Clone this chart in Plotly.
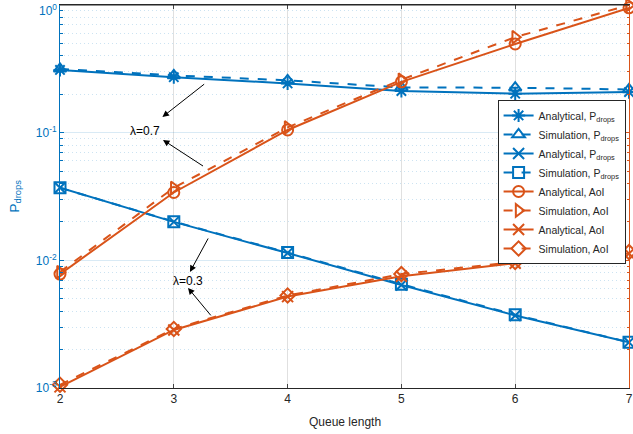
import numpy as np
import plotly.graph_objects as go

queue_length = [2, 3, 4, 5, 6, 7]

# lambda = 0.7
pdrop_ana_07 = [0.31, 0.272, 0.243, 0.212, 0.202, 0.208]
pdrop_sim_07 = [0.316, 0.281, 0.257, 0.226, 0.225, 0.218]
aoi_ana_07 = [0.0078, 0.034, 0.105, 0.25, 0.495, 0.95]
aoi_sim_07 = [0.0081, 0.037, 0.11, 0.26, 0.56, 1.0]

# lambda = 0.3
pdrop_ana_03 = [0.037, 0.0200, 0.0114, 0.0064, 0.0037, 0.00228]
pdrop_sim_03 = [0.037, 0.0201, 0.0115, 0.0065, 0.00375, 0.00228]
aoi_ana_03 = [0.00102, 0.00285, 0.0052, 0.0075, 0.0095, 0.0113]
aoi_sim_03 = [0.00106, 0.0029, 0.0053, 0.0078, 0.0097, 0.0116]

y_ticks = [1e-3, 1e-2, 1e-1, 1]
y_ticktext = ["10<sup>-3</sup>", "10<sup>-2</sup>", "10<sup>-1</sup>", ""]
top_tick_label = "10<sup>0</sup>"

BLUE = "#0072BD"
ORANGE = "#D95319"

fig = go.Figure()

def add(y, name, color, symbol, dash):
    fig.add_trace(go.Scatter(
        x=queue_length, y=y, name=name, mode="lines+markers",
        line=dict(color=color, width=2, dash=dash),
        marker=dict(symbol=symbol, size=11, color=color,
                    line=dict(color=color, width=2)),
        cliponaxis=False,
    ))

add(pdrop_ana_07, "Analytical, P<sub>drops</sub>", BLUE, "asterisk-open", "solid")
add(pdrop_sim_07, "Simulation, P<sub>drops</sub>", BLUE, "triangle-up-open", "dash")
add(pdrop_ana_03, "Analytical, P<sub>drops</sub>", BLUE, "x-thin-open", "solid")
add(pdrop_sim_03, "Simulation, P<sub>drops</sub>", BLUE, "square-open", "dash")
add(aoi_ana_07, "Analytical, AoI", ORANGE, "circle-open", "solid")
add(aoi_sim_07, "Simulation, AoI", ORANGE, "triangle-right-open", "dash")
add(aoi_ana_03, "Analytical, AoI", ORANGE, "x-thin-open", "solid")
add(aoi_sim_03, "Simulation, AoI", ORANGE, "diamond-open", "dash")

# invisible trace for right axis
fig.add_trace(go.Scatter(x=[2], y=[0.01], yaxis="y2", mode="markers",
                         marker=dict(opacity=0), showlegend=False, hoverinfo="skip"))

minor_vals = [m * 10.0 ** e for e in range(-3, 0) for m in range(2, 10)]

fig.update_layout(
    width=633, height=434,
    margin=dict(l=60, r=4, t=5, b=46),
    plot_bgcolor="white", paper_bgcolor="white",
    font=dict(family="Liberation Sans, Arial, sans-serif", size=12, color="#262626"),
    xaxis=dict(
        range=[2, 7], tickvals=queue_length, ticks="inside", ticklen=4,
        showline=True, linecolor="#262626", linewidth=1, mirror="ticks",
        showgrid=True, gridcolor="rgba(0,0,0,0.12)", zeroline=False,
        tickfont=dict(size=12), automargin=False,
    ),
    yaxis=dict(
        type="log", range=[-3, 0], tickvals=y_ticks, ticktext=y_ticktext,
        ticks="inside", ticklen=4, tickcolor=BLUE,
        showline=True, linecolor=BLUE, linewidth=1,
        tickfont=dict(color=BLUE, size=12),
        showgrid=True, gridcolor="rgba(0,114,189,0.15)", zeroline=False,
        minor=dict(tickvals=minor_vals, ticks="inside", ticklen=2.5, tickcolor=BLUE,
                   showgrid=True, gridcolor="rgba(0,114,189,0.2)", griddash="1px,3px",
                   gridwidth=1),
        automargin=False,
    ),
    yaxis2=dict(
        type="log", range=[-3, 0], overlaying="y", side="right",
        tickvals=y_ticks, showticklabels=False,
        ticks="inside", ticklen=4, tickcolor=ORANGE,
        showline=True, linecolor=ORANGE, linewidth=1, showgrid=False,
        minor=dict(tickvals=minor_vals, ticks="inside", ticklen=2.5, tickcolor=ORANGE,
                   showgrid=False),
        automargin=False,
    ),
    legend=dict(
        x=0.994, y=0.752, xanchor="right", yanchor="top",
        bgcolor="white", bordercolor="#262626", borderwidth=1,
        font=dict(size=10.5, color="#262626"), itemwidth=30, tracegroupgap=0,
    ),
    showlegend=True,
)

# top y tick label (drawn slightly lower so it stays on the page)
fig.add_annotation(x=0, y=1, xref="paper", yref="paper", text=top_tick_label,
                   showarrow=False, font=dict(size=12, color=BLUE),
                   xanchor="right", yanchor="middle", xshift=-1, yshift=-5)

# axis titles as annotations
fig.add_annotation(x=0.5, y=-0.088, xref="paper", yref="paper", text="Queue length",
                   showarrow=False, font=dict(size=12, color="#262626"),
                   xanchor="center", yanchor="middle")
fig.add_annotation(x=-0.079, y=0.5, xref="paper", yref="paper", text="P<sub>drops</sub>",
                   showarrow=False, font=dict(size=13.5, color=BLUE), textangle=-90,
                   xanchor="center", yanchor="middle")

# top border line (black)
fig.add_shape(type="line", xref="paper", yref="paper", x0=0, x1=1, y0=1, y1=1,
              line=dict(color="#262626", width=1))

def arrow(x, ly, ax, aly):
    fig.add_annotation(x=x, y=ly, ax=ax, ay=aly, xref="x", yref="y",
                       axref="x", ayref="y", showarrow=True, arrowhead=2,
                       arrowsize=1.3, arrowwidth=1, arrowcolor="black", text="")

arrow(2.90, -0.877, 3.28, -0.611)
arrow(2.905, -1.057, 3.27, -1.269)
fig.add_annotation(x=2.75, y=-0.987, xref="x", yref="y", text="λ=0.7",
                   showarrow=False, font=dict(size=12, color="black"))

arrow(3.142, -2.091, 3.309, -1.817)
arrow(3.125, -2.216, 3.336, -2.443)
fig.add_annotation(x=3.125, y=-2.161, xref="x", yref="y", text="λ=0.3",
                   showarrow=False, font=dict(size=12, color="black"))

fig.write_html("out.html", config={"displayModeBar": False},
               post_script="document.body.style.margin='0';")
